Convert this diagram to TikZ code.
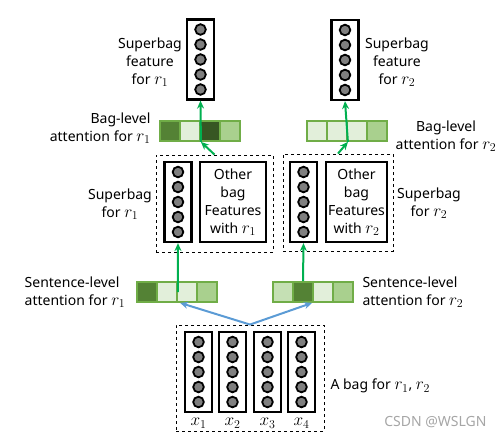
\documentclass[tikz,border=0pt]{standalone}
\usepackage{fontspec}
\setmainfont{Noto Sans}
\DeclareMathSizes{14}{17}{12}{10}
\usetikzlibrary{arrows.meta}

\definecolor{gborder}{HTML}{70AD47}
\definecolor{gdarkest}{HTML}{375623}
\definecolor{gdark}{HTML}{548235}
\definecolor{gmid}{HTML}{A9D08E}
\definecolor{gsoft}{HTML}{C5E0B4}
\definecolor{glight}{HTML}{E2EFDA}
\definecolor{arrgreen}{HTML}{00B050}
\definecolor{arrblue}{HTML}{5B9BD5}
\definecolor{dotgray}{HTML}{7F7F7F}

\tikzset{
    featbox/.style={draw, line width=2.2pt, fill=white, minimum width=27, minimum height=80, inner sep=0},
    dot/.style={draw, line width=1.8pt, fill=dotgray},
    cell/.style={draw=gborder, line width=1.8pt, minimum size=20, inner sep=0},
    dashbox/.style={draw, dashed, line width=0.9pt, inner sep=0},
    otherbox/.style={draw, line width=2.2pt, inner sep=0, align=center},
    lbl/.style={align=center, font=\fontsize{14}{18}\selectfont},
    greenarrow/.style={draw=arrgreen, line width=2pt, -{Stealth[length=8pt, width=7pt]}},
    bluearrow/.style={draw=arrblue, line width=2pt, -{Stealth[length=8pt, width=7pt]}}
}

% column of five units
\newcommand{\featcol}[2]{%
    \node[featbox] (#1) at (#2) {};
    \foreach \k in {-2, -1, 0, 1, 2}
        \draw[dot] ([yshift=\k*15]#1.center) circle (5.3);
}

\begin{document}
\begin{tikzpicture}[x=1pt, y=-1pt]
        \useasboundingbox (0, 0) rectangle (502, 442);

        % Dashed groups:
        \node[dashbox, minimum width=117, minimum height=97] (superL) at (214.5, 203.5) {};
        \node[dashbox, minimum width=110, minimum height=97] (superR) at (338, 202.5) {};
        \node[dashbox, minimum width=148, minimum height=106] (bag) at (250, 378) {};

        % Feature columns:
        \featcol{topL}{200.5, 59.5}
        \featcol{topR}{345, 60}
        \featcol{colL}{178, 202}
        \featcol{colR}{303.5, 202}
        \foreach \x [count=\i] in {198.5, 232.5, 267.5, 301.5} {
            \featcol{sent\i}{\x, 372}
            \node[lbl] (xlab\i) at (\x, 423) {$x_{\i}$};
        }

        % Other bag features:
        \node[otherbox, lbl, minimum width=66, minimum height=80] (otherL) at (233, 202) {Other\\bag\\Features\\with $r_1$};
        \node[otherbox, lbl, minimum width=61, minimum height=80] (otherR) at (356.5, 202) {Other\\bag\\Features\\with $r_2$};

        % Attention bars:
        \foreach \c [count=\i] in {gdark, glight, gdarkest, gmid}
            \node[cell, fill=\c] (bagL\i) at (150+20*\i, 131) {};
        \foreach \c [count=\i] in {glight, glight, glight, gmid}
            \node[cell, fill=\c] (bagR\i) at (297+20*\i, 131) {};
        \foreach \c [count=\i] in {gdark, glight, glight, gmid}
            \node[cell, fill=\c] (sentL\i) at (127+20*\i, 292) {};
        \foreach \c [count=\i] in {gsoft, gdark, glight, gmid}
            \node[cell, fill=\c] (sentR\i) at (263+20*\i, 292) {};

        % Arrows:
        \draw[bluearrow] (bag.north) -- ([xshift=4]sentL3.south west);
        \draw[bluearrow] (bag.north) -- (sentR3.south west);
        \draw[greenarrow] (sentL2.east) -- (colL.south);
        \draw[greenarrow] (sentR2.north) -- (colR.south);
        \draw[greenarrow] (superL.north) -- (bagL2.south east);
        \draw[greenarrow] (superR.north) -- (bagR2.south east);
        \draw[greenarrow] (bagL2.south east) -- (topL.south);
        \draw[greenarrow] (bagR2.south east) -- (topR.south);

        % Labels:
        \node[lbl] (featL) at (150, 62) {Superbag\\feature\\for $r_1$};
        \node[lbl] (featR) at (397, 62) {Superbag\\feature\\for $r_2$};
        \node[lbl, align=right, anchor=east] (attL) at (154, 128) {Bag-level\\attention for $r_1$};
        \node[lbl] (attR) at (446, 136) {Bag-level\\attention for $r_2$};
        \node[lbl] (supL) at (120, 204) {Superbag\\for $r_1$};
        \node[lbl] (supR) at (429, 203) {Superbag\\for $r_2$};
        \node[lbl, align=left] (senL) at (75, 292) {Sentence-level\\attention for $r_1$};
        \node[lbl, align=left, anchor=west] (senR) at (359, 292) {Sentence-level\\attention for $r_2$};
        \node[lbl, anchor=west] (bagtxt) at (327, 386) {A bag for $r_1$,\ $r_2$};
        \node[lbl, anchor=east, text=gray!70] (mark) at (490, 422) {CSDN @WSLGN};
    \end{tikzpicture}
\end{document}
